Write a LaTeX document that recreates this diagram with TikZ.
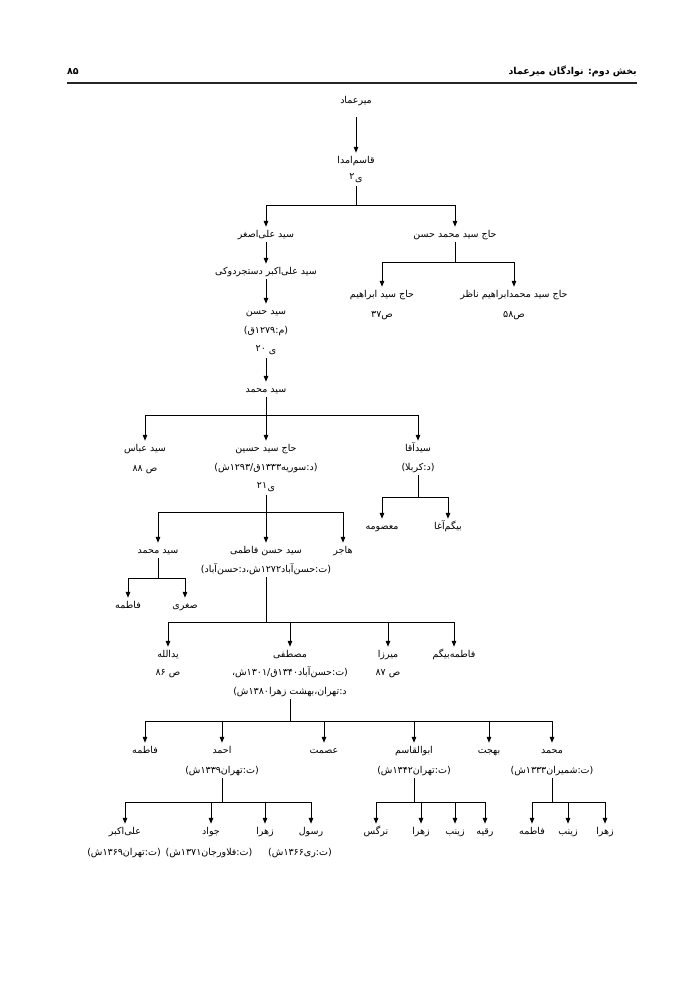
\documentclass[tikz,border=0pt]{standalone}
\usepackage{fontspec}
\usetikzlibrary{arrows.meta}
\TeXXeTstate=1
\newfontfamily\fafont[Script=Arabic]{DejaVu Sans}
\newcommand{\fa}[1]{\beginR#1\endR}
\newcommand{\yref}[2][0.5pt]{\beginR ی\hspace{#1}\raisebox{1.8pt}{#2}\endR}
\tikzset{
  lbl/.style={inner sep=1pt, text height=9pt, text depth=4pt, anchor=base,
    font=\fafont\fontsize{9.5}{11}\selectfont},
  ln/.style={line width=1pt, black},
  arr/.style={ln, -{Triangle[length=6pt,width=4.5pt]}},
}
\begin{document}
\begin{tikzpicture}[x=1pt,y=-1pt]
\useasboundingbox (0,0) rectangle (700,989);
% header
\node[anchor=base east, inner sep=0pt, font=\fafont\bfseries\fontsize{9.5}{12}\selectfont] (title) at (637,74) {\fa{بخش دوم: نوادگان میرعماد}};
\node[anchor=base west, inner sep=0pt, font=\fafont\bfseries\fontsize{9.5}{12}\selectfont] (pnum) at (67,74) {\fa{۸۵}};
\draw[line width=1.1pt, black!85] (67,83) -- (637,83);

% nodes
\node[lbl] (mir) at (356,103) {\fa{میرعماد}};
\node[lbl] (qa) at (356,163) {\fa{قاسم‌امدا}};
\node[lbl] (qb) at (356,181) {\yref{۲}};

\node[lbl] (ali) at (266,237) {\fa{سید علی‌اصغر}};
\node[lbl] (hmh) at (455,237) {\fa{حاج سید محمد حسن}};
\node[lbl] (hse) at (382,297) {\fa{حاج سید ابراهیم}};
\node[lbl] (hseb) at (382,317) {\fa{ص۳۷}};
\node[lbl] (hmn) at (514,297) {\fa{حاج سید محمدابراهیم ناظر}};
\node[lbl] (hmnb) at (514,317) {\fa{ص۵۸}};

\node[lbl] (aak) at (266,274) {\fa{سید علی‌اکبر دستجردوکی}};
\node[lbl] (sha) at (266,314) {\fa{سید حسن}};
\node[lbl] (shb) at (266,333) {\fa{(م:۱۲۷۹ق)}};
\node[lbl] (shc) at (266,353) {\yref[3pt]{۲۰}};
\node[lbl] (sm) at (266,392) {\fa{سید محمد}};

\node[lbl] (saba) at (145,451) {\fa{سید عباس}};
\node[lbl] (sabb) at (145,471) {\fa{ص ۸۸}};
\node[lbl] (hsha) at (266,451) {\fa{حاج سید حسین}};
\node[lbl] (hshb) at (266,470) {\fa{(د:سوریه۱۳۳۳ق/۱۲۹۳ش)}};
\node[lbl] (hshc) at (266,490) {\yref{۲۱}};
\node[lbl] (saqa) at (418,451) {\fa{سیدآقا}};
\node[lbl] (saqb) at (418,470) {\fa{(د:کربلا)}};

\node[lbl] (mas) at (382,529) {\fa{معصومه}};
\node[lbl] (bia) at (448,529) {\fa{بیگم‌آغا}};

\node[lbl] (smb) at (158,553) {\fa{سید محمد}};
\node[lbl] (shfa) at (266,553) {\fa{سید حسن فاطمی}};
\node[lbl] (shfb) at (266,572) {\fa{(ت:حسن‌آباد۱۲۷۲ش،د:حسن‌آباد)}};
\node[lbl] (haj) at (343,553) {\fa{هاجر}};

\node[lbl] (fata) at (128,608) {\fa{فاطمه}};
\node[lbl] (sog) at (185,608) {\fa{صغری}};

\node[lbl] (yada) at (168,657) {\fa{یدالله}};
\node[lbl] (yadb) at (168,675) {\fa{ص ۸۶}};
\node[lbl] (mosa) at (290,657) {\fa{مصطفی}};
\node[lbl] (mosb) at (290,675) {\fa{(ت:حسن‌آباد۱۳۴۰ق/۱۳۰۱ش،}};
\node[lbl] (mosc) at (290,694) {\fa{د:تهران،بهشت زهرا۱۳۸۰ش)}};
\node[lbl] (miza) at (388,657) {\fa{میرزا}};
\node[lbl] (mizb) at (388,675) {\fa{ص ۸۷}};
\node[lbl] (fab) at (454,657) {\fa{فاطمه‌بیگم}};

\node[lbl] (fatb) at (145,753) {\fa{فاطمه}};
\node[lbl] (ahma) at (222,753) {\fa{احمد}};
\node[lbl] (ahmb) at (222,773) {\fa{(ت:تهران۱۳۳۹ش)}};
\node[lbl] (esm) at (324,753) {\fa{عصمت}};
\node[lbl] (abqa) at (414,753) {\fa{ابوالقاسم}};
\node[lbl] (abqb) at (414,773) {\fa{(ت:تهران۱۳۴۲ش)}};
\node[lbl] (beh) at (489,753) {\fa{بهجت}};
\node[lbl] (moha) at (552,753) {\fa{محمد}};
\node[lbl] (mohb) at (552,773) {\fa{(ت:شمیران۱۳۳۳ش)}};

\node[lbl] (alia) at (125,834) {\fa{علی‌اکبر}};
\node[lbl] (alib) at (124,855) {\fa{(ت:تهران۱۳۶۹ش)}};
\node[lbl] (java) at (211,834) {\fa{جواد}};
\node[lbl] (javb) at (209,855) {\fa{(ت:فلاورجان۱۳۷۱ش)}};
\node[lbl] (zaha) at (265,834) {\fa{زهرا}};
\node[lbl] (rasa) at (311,834) {\fa{رسول}};
\node[lbl] (rasb) at (300,855) {\fa{(ت:ری۱۳۶۶ش)}};

\node[lbl] (nar) at (376,834) {\fa{نرگس}};
\node[lbl] (zahb) at (421,834) {\fa{زهرا}};
\node[lbl] (zeya) at (455,834) {\fa{زینب}};
\node[lbl] (roq) at (485,834) {\fa{رقیه}};

\node[lbl] (fatc) at (532,834) {\fa{فاطمه}};
\node[lbl] (zeyb) at (568,834) {\fa{زینب}};
\node[lbl] (zahc) at (605,834) {\fa{زهرا}};

% connectors
\draw[arr, shorten <=9pt] (mir.south) -- (qa.north);

\coordinate (b1) at (356,205);
\draw[ln] (qb.south) -- (b1);
\draw[ln] (ali.north |- b1) -- (hmh.north |- b1);
\draw[arr] (ali.north |- b1) -- (ali.north);
\draw[arr] (hmh.north |- b1) -- (hmh.north);

\coordinate (b2) at (455,262);
\draw[ln] (hmh.south) -- (b2);
\draw[ln] (hse.north |- b2) -- (hmn.north |- b2);
\draw[arr] (hse.north |- b2) -- (hse.north);
\draw[arr] (hmn.north |- b2) -- (hmn.north);

\draw[arr] (ali.south) -- (aak.north);
\draw[arr] (aak.south) -- (sha.north);
\draw[arr] (shc.south) -- (sm.north);

\coordinate (b3) at (266,415);
\draw[ln] (sm.south) -- (b3);
\draw[ln] (saba.north |- b3) -- (saqa.north |- b3);
\draw[arr] (saba.north |- b3) -- (saba.north);
\draw[arr] (hsha.north |- b3) -- (hsha.north);
\draw[arr] (saqa.north |- b3) -- (saqa.north);

\coordinate (b4) at (418,497);
\draw[ln] (saqb.south) -- (b4);
\draw[ln] (mas.north |- b4) -- (bia.north |- b4);
\draw[arr] (mas.north |- b4) -- (mas.north);
\draw[arr] (bia.north |- b4) -- (bia.north);

\coordinate (b5) at (266,512);
\draw[ln] (hshc.south) -- (b5);
\draw[ln] (smb.north |- b5) -- (haj.north |- b5);
\draw[arr] (smb.north |- b5) -- (smb.north);
\draw[arr] (shfa.north |- b5) -- (shfa.north);
\draw[arr] (haj.north |- b5) -- (haj.north);

\coordinate (b6) at (158,578);
\draw[ln] (smb.south) -- (b6);
\draw[ln] (fata.north |- b6) -- (sog.north |- b6);
\draw[arr] (fata.north |- b6) -- (fata.north);
\draw[arr] (sog.north |- b6) -- (sog.north);

\coordinate (b7) at (266,622);
\draw[ln] (shfb.south) -- (b7);
\draw[ln] (yada.north |- b7) -- (fab.north |- b7);
\draw[arr] (yada.north |- b7) -- (yada.north);
\draw[arr] (mosa.north |- b7) -- (mosa.north);
\draw[arr] (miza.north |- b7) -- (miza.north);
\draw[arr] (fab.north |- b7) -- (fab.north);

\coordinate (b8) at (290,721);
\draw[ln] (mosc.south) -- (b8);
\draw[ln] (fatb.north |- b8) -- (moha.north |- b8);
\foreach \n in {fatb,ahma,esm,abqa,beh,moha}
  \draw[arr] (\n.north |- b8) -- (\n.north);

\coordinate (b9) at (222,802);
\draw[ln] (ahmb.south) -- (b9);
\draw[ln] (alia.north |- b9) -- (rasa.north |- b9);
\foreach \n in {alia,java,zaha,rasa}
  \draw[arr] (\n.north |- b9) -- (\n.north);

\coordinate (b10) at (414,802);
\draw[ln] (abqb.south) -- (b10);
\draw[ln] (nar.north |- b10) -- (roq.north |- b10);
\foreach \n in {nar,zahb,zeya,roq}
  \draw[arr] (\n.north |- b10) -- (\n.north);

\coordinate (b11) at (552,802);
\draw[ln] (mohb.south) -- (b11);
\draw[ln] (fatc.north |- b11) -- (zahc.north |- b11);
\foreach \n in {fatc,zeyb,zahc}
  \draw[arr] (\n.north |- b11) -- (\n.north);
\end{tikzpicture}
\end{document}
